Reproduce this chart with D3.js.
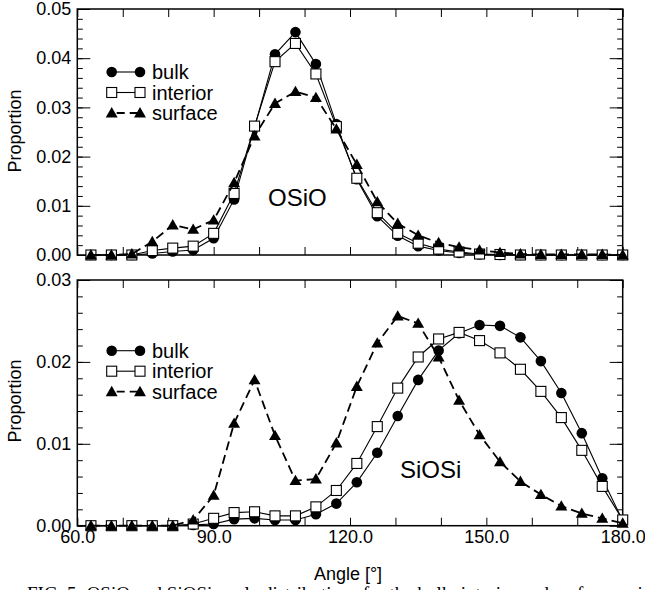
<!DOCTYPE html>
<html>
<head>
<meta charset="utf-8">
<script src="https://cdn.jsdelivr.net/npm/d3@7"></script>
<style>
  html, body { margin: 0; padding: 0; background: #fff; }
  svg { display: block; }
  text { font-family: "Liberation Sans", Arial, Helvetica, sans-serif; fill: #000; }
</style>
</head>
<body>
<svg id="chart" width="645" height="590"></svg>
<script>
// ---- data ----
const angles = [63,67.5,72,76.5,81,85.5,90,94.5,99,103.5,108,112.5,117,121.5,126,130.5,135,139.5,144,148.5,153,157.5,162,166.5,171,175.5,180];

const osioBulk     = [0,0,0,0.0003,0.0007,0.0010,0.0034,0.0113,0.0260,0.0408,0.0453,0.0388,0.0266,0.0154,0.0079,0.0039,0.0018,0.0009,0.0004,0.0001,0,0,0,0,0,0,0];
const osioInterior = [0,0,0,0.0009,0.0014,0.0018,0.0044,0.0125,0.0262,0.0393,0.0430,0.0368,0.0261,0.0156,0.0086,0.0044,0.0024,0.0012,0.0006,0.0002,0.0001,0,0,0,0,0,0];
const osioSurface  = [0,0,0.0002,0.0027,0.0061,0.0052,0.0071,0.0147,0.0242,0.0308,0.0332,0.0320,0.0256,0.0184,0.0108,0.0064,0.0040,0.0025,0.0016,0.0010,0.0005,0.0002,0.0001,0.0001,0.0001,0.0001,0];

const siosiBulk     = [0,0,0,0,0,0.0001,0.0002,0.0008,0.0009,0.0007,0.0007,0.0014,0.0027,0.0053,0.0089,0.0134,0.0178,0.0214,0.0235,0.0245,0.0244,0.0230,0.0201,0.0162,0.0113,0.0058,0.0006];
const siosiInterior = [0,0,0,0,0,0.0002,0.0009,0.0016,0.0017,0.0012,0.0012,0.0023,0.0043,0.0076,0.0121,0.0168,0.0206,0.0228,0.0236,0.0226,0.0211,0.0191,0.0164,0.0132,0.0092,0.0048,0.0007];
const siosiSurface  = [0,0,0,0,0,0.0007,0.0037,0.0125,0.0178,0.0110,0.0055,0.0057,0.0101,0.0170,0.0223,0.0256,0.0247,0.0206,0.0153,0.0111,0.0078,0.0054,0.0038,0.0024,0.0015,0.0009,0.0003];

const seriesNames = ["bulk", "interior", "surface"];
const xTickLabels = [60, 90, 120, 150, 180];
const xMajorTicks = [60,70,80,90,100,110,120,130,140,150,160,170,180];
const topYTicks = [0, 0.01, 0.02, 0.03, 0.04, 0.05];
const botYTicks = [0, 0.01, 0.02, 0.03];
const topLabel = "OSiO";
const botLabel = "SiOSi";
const xTitle = "Angle [°]";
const yTitle = "Proportion";
const caption = "FIG. 5: OSiO and SiOSi angle distributions for the bulk, interior and surface regions.";

// ---- drawing ----
const svg = d3.select("#chart");
const X0 = 77.3, X1 = 622.7;
const x = d3.scaleLinear().domain([60, 180]).range([X0, X1]);

const panels = [
  { y: d3.scaleLinear().domain([0, 0.05]).range([255, 9]), ticks: topYTicks, minorStep: 0.002,
    data: [osioBulk, osioInterior, osioSurface], label: topLabel, labelPos: [268, 205.5],
    legendY: 72, showX: false, titleY: 131 },
  { y: d3.scaleLinear().domain([0, 0.03]).range([525.7, 280]), ticks: botYTicks, minorStep: 0.002,
    data: [siosiBulk, siosiInterior, siosiSurface], label: botLabel, labelPos: [400, 477.5],
    legendY: 350.7, showX: true, titleY: 401 }
];

const styles = [
  { marker: "circle",   dash: null,  width: 1.1 },
  { marker: "square",   dash: null,  width: 1.1 },
  { marker: "triangle", dash: "9,5", width: 1.8 }
];

function drawMarker(g, type, cx, cy) {
  if (type === "circle") {
    g.append("circle").attr("cx", cx).attr("cy", cy).attr("r", 5.3).attr("fill", "#000");
  } else if (type === "square") {
    g.append("rect").attr("x", cx - 5).attr("y", cy - 5).attr("width", 10).attr("height", 10)
      .attr("fill", "#fff").attr("stroke", "#000").attr("stroke-width", 1.1);
  } else {
    const s = d3.symbol().type(d3.symbolTriangle).size(62);
    g.append("path").attr("d", s()).attr("transform", `translate(${cx},${cy + 1})`).attr("fill", "#000");
  }
}

panels.forEach(p => {
  const g = svg.append("g");
  const y = p.y;
  const [yb, yt] = y.range();

  // minor y ticks
  const minors = d3.range(0, y.domain()[1] + 1e-9, p.minorStep);
  g.append("g").attr("transform", `translate(${X0},0)`)
    .call(d3.axisLeft(y).tickValues(minors).tickSize(-5.5).tickFormat(""))
    .call(a => a.select(".domain").remove());
  g.append("g").attr("transform", `translate(${X1},0)`)
    .call(d3.axisRight(y).tickValues(minors).tickSize(-5.5).tickFormat(""))
    .call(a => a.select(".domain").remove());
  // major y ticks
  g.append("g").attr("transform", `translate(${X0},0)`)
    .call(d3.axisLeft(y).tickValues(p.ticks).tickSize(-13).tickFormat(""))
    .call(a => a.select(".domain").remove());
  g.append("g").attr("transform", `translate(${X1},0)`)
    .call(d3.axisRight(y).tickValues(p.ticks).tickSize(-13).tickFormat(""))
    .call(a => a.select(".domain").remove());
  // y labels
  g.append("g").attr("transform", `translate(${X0},0)`)
    .call(d3.axisLeft(y).tickValues(p.ticks).tickSize(0).tickPadding(6).tickFormat(d3.format(".2f")))
    .call(a => a.select(".domain").remove())
    .call(a => a.selectAll("text").style("font-size", "18px").attr("font-family", null));
  // x ticks top & bottom
  g.append("g").attr("transform", `translate(0,${yt})`)
    .call(d3.axisTop(x).tickValues(xMajorTicks).tickSize(-8).tickFormat(""))
    .call(a => a.select(".domain").remove());
  g.append("g").attr("transform", `translate(0,${yb})`)
    .call(d3.axisBottom(x).tickValues(xMajorTicks).tickSize(-8).tickFormat(""))
    .call(a => a.select(".domain").remove());
  if (p.showX) {
    g.append("g").attr("transform", `translate(0,${yb})`)
      .call(d3.axisBottom(x).tickValues(xTickLabels).tickSize(0).tickPadding(5).tickFormat(d3.format(".1f")))
      .call(a => a.select(".domain").remove())
      .call(a => a.selectAll("text").style("font-size", "18px").attr("font-family", null));
  }
  g.selectAll(".tick line").attr("stroke", "#000").attr("stroke-width", 1);

  // frame
  g.append("rect").attr("x", X0).attr("y", yt).attr("width", X1 - X0).attr("height", yb - yt)
    .attr("fill", "none").attr("stroke", "#000").attr("stroke-width", 1.5);

  // series
  p.data.forEach((vals, i) => {
    const st = styles[i];
    const pts = angles.map((a, j) => [x(a), y(vals[j])]);
    g.append("path").attr("d", d3.line()(pts)).attr("fill", "none").attr("stroke", "#000")
      .attr("stroke-width", st.width).attr("stroke-dasharray", st.dash);
    const mg = g.append("g");
    pts.forEach(([cx, cy]) => drawMarker(mg, st.marker, cx, cy));
  });

  // legend
  seriesNames.forEach((name, i) => {
    const st = styles[i];
    const ly = p.legendY + i * 20.5;
    const lg = g.append("g");
    lg.append("line").attr("x1", 111.7).attr("x2", 140).attr("y1", ly).attr("y2", ly)
      .attr("stroke", "#000").attr("stroke-width", st.width).attr("stroke-dasharray", st.dash ? "8,5" : null)
      .attr("stroke-dashoffset", st.dash ? -5 : null);
    drawMarker(lg, st.marker, 111.7, ly);
    drawMarker(lg, st.marker, 140, ly);
    lg.append("text").attr("x", 152).attr("y", ly + 7).style("font-size", "20px").text(name);
  });

  // panel label
  g.append("text").attr("x", p.labelPos[0]).attr("y", p.labelPos[1]).style("font-size", "24px").text(p.label);

  // y title
  g.append("text").attr("transform", `translate(21,${p.titleY}) rotate(-90)`)
    .attr("text-anchor", "middle").style("font-size", "18px").text(yTitle);
});

// x title
svg.append("text").attr("x", 348).attr("y", 580).attr("text-anchor", "middle")
  .style("font-size", "18px").text(xTitle);

// caption (only the tops of its letters show at the bottom edge, as in the reference)
svg.append("text").attr("x", 27).attr("y", 599.5)
  .style("font-family", "'Liberation Serif', 'DejaVu Serif', serif").style("font-size", "19px")
  .text(caption);
</script>
</body>
</html>
